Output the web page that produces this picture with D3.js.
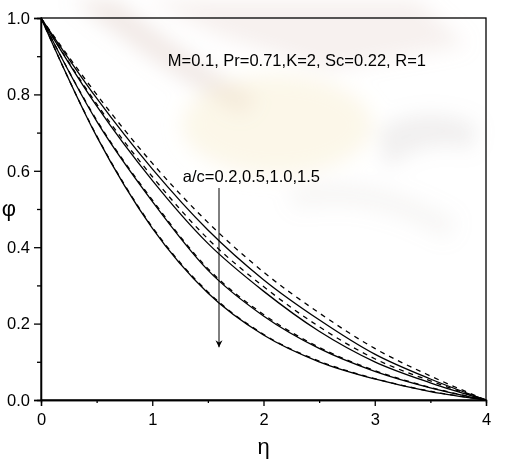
<!DOCTYPE html>
<html>
<head>
<meta charset="utf-8">
<script src="https://cdn.jsdelivr.net/npm/d3@7/dist/d3.min.js"></script>
<style>
  body { margin: 0; background: #fff; }
  text { font-family: "Liberation Sans", Arial, sans-serif; }
</style>
</head>
<body>
<div id="chart-area"></div>
<script>
var canvasWidth = 508
var canvasHeight = 462
var margin = {top: 18, right: 22, bottom: 62, left: 41}
var chartWidth = canvasWidth - margin.left - margin.right
var chartHeight = canvasHeight - margin.top - margin.bottom

// eta grid and phi values
var eta = [0, 0.5, 1, 1.5, 2, 2.5, 3, 3.5, 4]
var solid02 = [1, 0.79, 0.605, 0.445, 0.315, 0.21, 0.12, 0.055, 0]
var dash02  = [1, 0.80, 0.62, 0.465, 0.335, 0.228, 0.135, 0.063, 0]
var solid05 = [1, 0.77, 0.575, 0.41, 0.285, 0.18, 0.10, 0.045, 0]
var dash05  = [1, 0.775, 0.585, 0.422, 0.297, 0.192, 0.108, 0.05, 0]
var solid10 = [1, 0.73, 0.52, 0.34, 0.22, 0.135, 0.075, 0.032, 0]
var dash10  = [1, 0.733, 0.524, 0.344, 0.224, 0.138, 0.077, 0.033, 0]
var solid15 = [1, 0.69, 0.45, 0.28, 0.17, 0.10, 0.055, 0.022, 0]
var dash15  = [1, 0.692, 0.453, 0.283, 0.172, 0.102, 0.056, 0.023, 0]

var xTicks = [0, 1, 2, 3, 4]
var xMinor = [0.5, 1.5, 2.5, 3.5]
var yTicks = [0, 0.2, 0.4, 0.6, 0.8, 1.0]
var yMinor = [0.1, 0.3, 0.5, 0.7, 0.9]

var paramLabel = "M=0.1, Pr=0.71,K=2, Sc=0.22, R=1"
var arrowLabel = "a/c=0.2,0.5,1.0,1.5"
var arrowFrom = {x: 1.6, y: 0.555}
var arrowTo = {x: 1.6, y: 0.138}

var svg = d3.select("#chart-area")
  .append("svg")
  .attr("width", canvasWidth)
  .attr("height", canvasHeight)

// faint watermark picture behind the chart
var defs = svg.append("defs")
defs.append("filter").attr("id", "blur")
  .append("feGaussianBlur").attr("stdDeviation", 10)
defs.append("marker")
  .attr("id", "head")
  .attr("viewBox", "0 0 10 10")
  .attr("refX", 10).attr("refY", 5)
  .attr("markerWidth", 7).attr("markerHeight", 12)
  .attr("markerUnits", "userSpaceOnUse")
  .attr("orient", "auto")
  .append("path")
  .attr("d", "M0,0L10,5L0,10L3,5Z")
  .attr("fill", "#000")

var wm = svg.append("g").attr("filter", "url(#blur)")
wm.append("path")
  .attr("d", "M72,0 C117,35 172,75 242,115 L257,98 C192,58 142,22 117,0 Z")
  .attr("fill", "#c9a89d").attr("opacity", 0.25)
wm.append("path")
  .attr("d", "M147,0 L417,0 L467,45 L327,70 L217,35 Z")
  .attr("fill", "#dcc0b8").attr("opacity", 0.22)
wm.append("ellipse")
  .attr("cx", 277).attr("cy", 125).attr("rx", 95).attr("ry", 50)
  .attr("fill", "#f7ecc8").attr("opacity", 0.4)
wm.append("path")
  .attr("d", "M377,130 C407,110 447,110 477,125 L472,150 C437,140 407,150 387,170 Z")
  .attr("fill", "#a89e9a").attr("opacity", 0.16)
wm.append("path")
  .attr("d", "M287,190 C327,175 387,180 457,220 L447,240 C387,205 337,200 297,210 Z")
  .attr("fill", "#bfb3ae").attr("opacity", 0.12)

var x = d3.scaleLinear().domain([0, 4]).range([0, chartWidth])
var y = d3.scaleLinear().domain([0, 1]).range([chartHeight, 0])

var chart = svg.append("g")
  .attr("transform", "translate(" + margin.left + "," + margin.top + ")")

var line = d3.line()
  .x(function(d) { return x(d[0]) })
  .y(function(d) { return y(d[1]) })
  .curve(d3.curveMonotoneX)

var series = [
  {v: solid02, dash: null}, {v: dash02, dash: "5,5"},
  {v: solid05, dash: null}, {v: dash05, dash: "5,5"},
  {v: solid10, dash: null}, {v: dash10, dash: "5,5"},
  {v: solid15, dash: null}, {v: dash15, dash: "5,5"}
]

chart.selectAll(".curve")
  .data(series)
  .enter().append("path")
    .attr("class", "curve")
    .attr("d", function(s) { return line(d3.zip(eta, s.v)) })
    .attr("fill", "none")
    .attr("stroke", "#000")
    .attr("stroke-width", 1.3)
    .attr("stroke-dasharray", function(s) { return s.dash })

// frame
chart.append("rect")
  .attr("width", chartWidth)
  .attr("height", chartHeight)
  .attr("fill", "none")
  .attr("stroke", "#000")
  .attr("stroke-width", 1.3)

var xAxis = chart.append("g")
  .attr("transform", "translate(0," + chartHeight + ")")
  .call(d3.axisBottom(x).tickValues(xTicks).tickSize(6).tickPadding(7).tickFormat(d3.format("d")))
var xAxisMinor = chart.append("g")
  .attr("transform", "translate(0," + chartHeight + ")")
  .call(d3.axisBottom(x).tickValues(xMinor).tickSize(3).tickFormat(""))

var yAxis = chart.append("g")
  .call(d3.axisLeft(y).tickValues(yTicks).tickSize(7).tickPadding(4).tickFormat(d3.format(".1f")))
var yAxisMinor = chart.append("g")
  .call(d3.axisLeft(y).tickValues(yMinor).tickSize(4).tickFormat(""))

chart.selectAll(".domain").attr("stroke-width", 1.3)
chart.selectAll(".tick line").attr("stroke-width", 1.3)
chart.selectAll(".tick text")
  .attr("font-size", "16.5px")
  .attr("font-family", "Liberation Sans, Arial, sans-serif")
  .attr("fill", "#000")

// axis titles
svg.append("text")
  .attr("x", margin.left + chartWidth / 2)
  .attr("y", 454)
  .attr("text-anchor", "middle")
  .attr("font-size", "22px")
  .text("η")

svg.append("text")
  .attr("x", 9)
  .attr("y", 216)
  .attr("text-anchor", "middle")
  .attr("font-size", "22px")
  .text("φ")

// annotations
chart.append("text")
  .attr("x", x(1.14))
  .attr("y", 48)
  .attr("font-size", "16.5px")
  .text(paramLabel)

chart.append("text")
  .attr("x", x(1.275))
  .attr("y", y(0.57))
  .attr("font-size", "16.5px")
  .text(arrowLabel)

chart.append("line")
  .attr("x1", x(arrowFrom.x)).attr("y1", y(arrowFrom.y))
  .attr("x2", x(arrowTo.x)).attr("y2", y(arrowTo.y))
  .attr("stroke", "#000")
  .attr("stroke-width", 1)
  .attr("marker-end", "url(#head)")
</script>
</body>
</html>
